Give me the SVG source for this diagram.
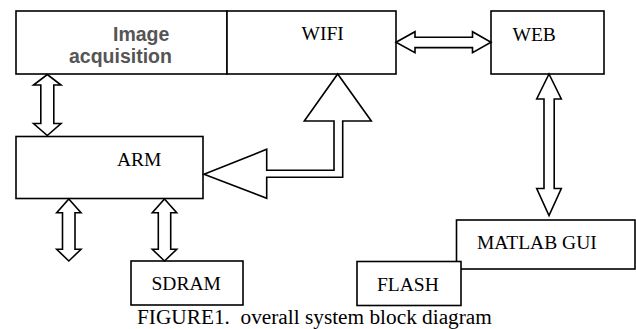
<svg xmlns="http://www.w3.org/2000/svg" width="636" height="329" viewBox="0 0 636 329">
  <style>
    .box { fill: #fff; stroke: #000; stroke-width: 1.6; }
    .lbl { font-family: "Liberation Serif", "Times New Roman", serif; font-size: 19.5px; fill: #000; }
    .sans { font-family: "Liberation Sans", Arial, sans-serif; font-weight: bold; font-size: 19.5px; fill: #555; }
    .arrow { fill: #fff; stroke: #000; stroke-width: 1.6; stroke-linejoin: miter; }
    .cap { font-family: "Liberation Serif", "Times New Roman", serif; font-size: 21.3px; fill: #000; }
  </style>
  <rect width="636" height="329" fill="#fff"/>

  <g id="image-acquisition">
    <rect class="box" x="16" y="11" width="211" height="63"/>
    <text class="sans" x="113" y="40.5">Image</text>
    <text class="sans" x="69" y="63">acquisition</text>
  </g>
  <g id="wifi">
    <rect class="box" x="227" y="11" width="169" height="63"/>
    <text class="lbl" x="301.5" y="40">WIFI</text>
  </g>
  <g id="web">
    <rect class="box" x="491" y="11" width="113" height="63"/>
    <text class="lbl" x="512.5" y="41">WEB</text>
  </g>
  <g id="arm">
    <rect class="box" x="16" y="136.5" width="187" height="62"/>
    <text class="lbl" x="117" y="166">ARM</text>
  </g>
  <g id="sdram">
    <rect class="box" x="131" y="261" width="112" height="44"/>
    <text class="lbl" x="151.5" y="290">SDRAM</text>
  </g>
  <g id="matlab-gui">
    <rect class="box" x="456.5" y="220" width="178.5" height="49"/>
    <text class="lbl" x="477" y="249">MATLAB GUI</text>
  </g>
  <g id="flash">
    <rect class="box" x="357" y="261.5" width="104" height="44"/>
    <text class="lbl" x="377" y="291">FLASH</text>
  </g>

  <g id="connectors">
    <!-- image acquisition <-> ARM -->
    <polygon class="arrow" points="47.3,74.5 61,85 53.8,85 53.8,123.5 61,123.5 47.3,135.5 33.5,123.5 40.8,123.5 40.8,85 33.5,85"/>
    <!-- WIFI <-> WEB -->
    <polygon class="arrow" points="396,42.3 415,31.7 415,37.2 472.5,37.2 472.5,31.7 491,42.3 472.5,52.7 472.5,47.6 415,47.6 415,52.7"/>
    <!-- WEB <-> MATLAB GUI -->
    <polygon class="arrow" points="549,74 561.3,99 554.2,99 554.2,188.5 561.3,188.5 549,215.5 536.7,188.5 544,188.5 544,99 536.7,99"/>
    <!-- ARM <-> external -->
    <polygon class="arrow" points="68.8,199 81,212.7 75,212.7 75,249.3 81,249.3 68.8,261 56.7,249.3 62.5,249.3 62.5,212.7 56.7,212.7"/>
    <!-- ARM <-> SDRAM -->
    <polygon class="arrow" points="164.5,199 176.7,212.7 170.7,212.7 170.7,249.3 176.7,249.3 164.5,261 152.3,249.3 158.3,249.3 158.3,212.7 152.3,212.7"/>
    <!-- ARM <-> WIFI bus -->
    <polygon class="arrow" points="204,174.3 266.7,149.3 266.7,170.3 334,170.3 334,121 304.3,121 337.7,74 371.3,121 342.7,121 342.7,177.3 266.7,177.3 266.7,198.3"/>
  </g>

  <text class="cap" x="137" y="324" xml:space="preserve">FIGURE1.  overall system block diagram</text>
</svg>
